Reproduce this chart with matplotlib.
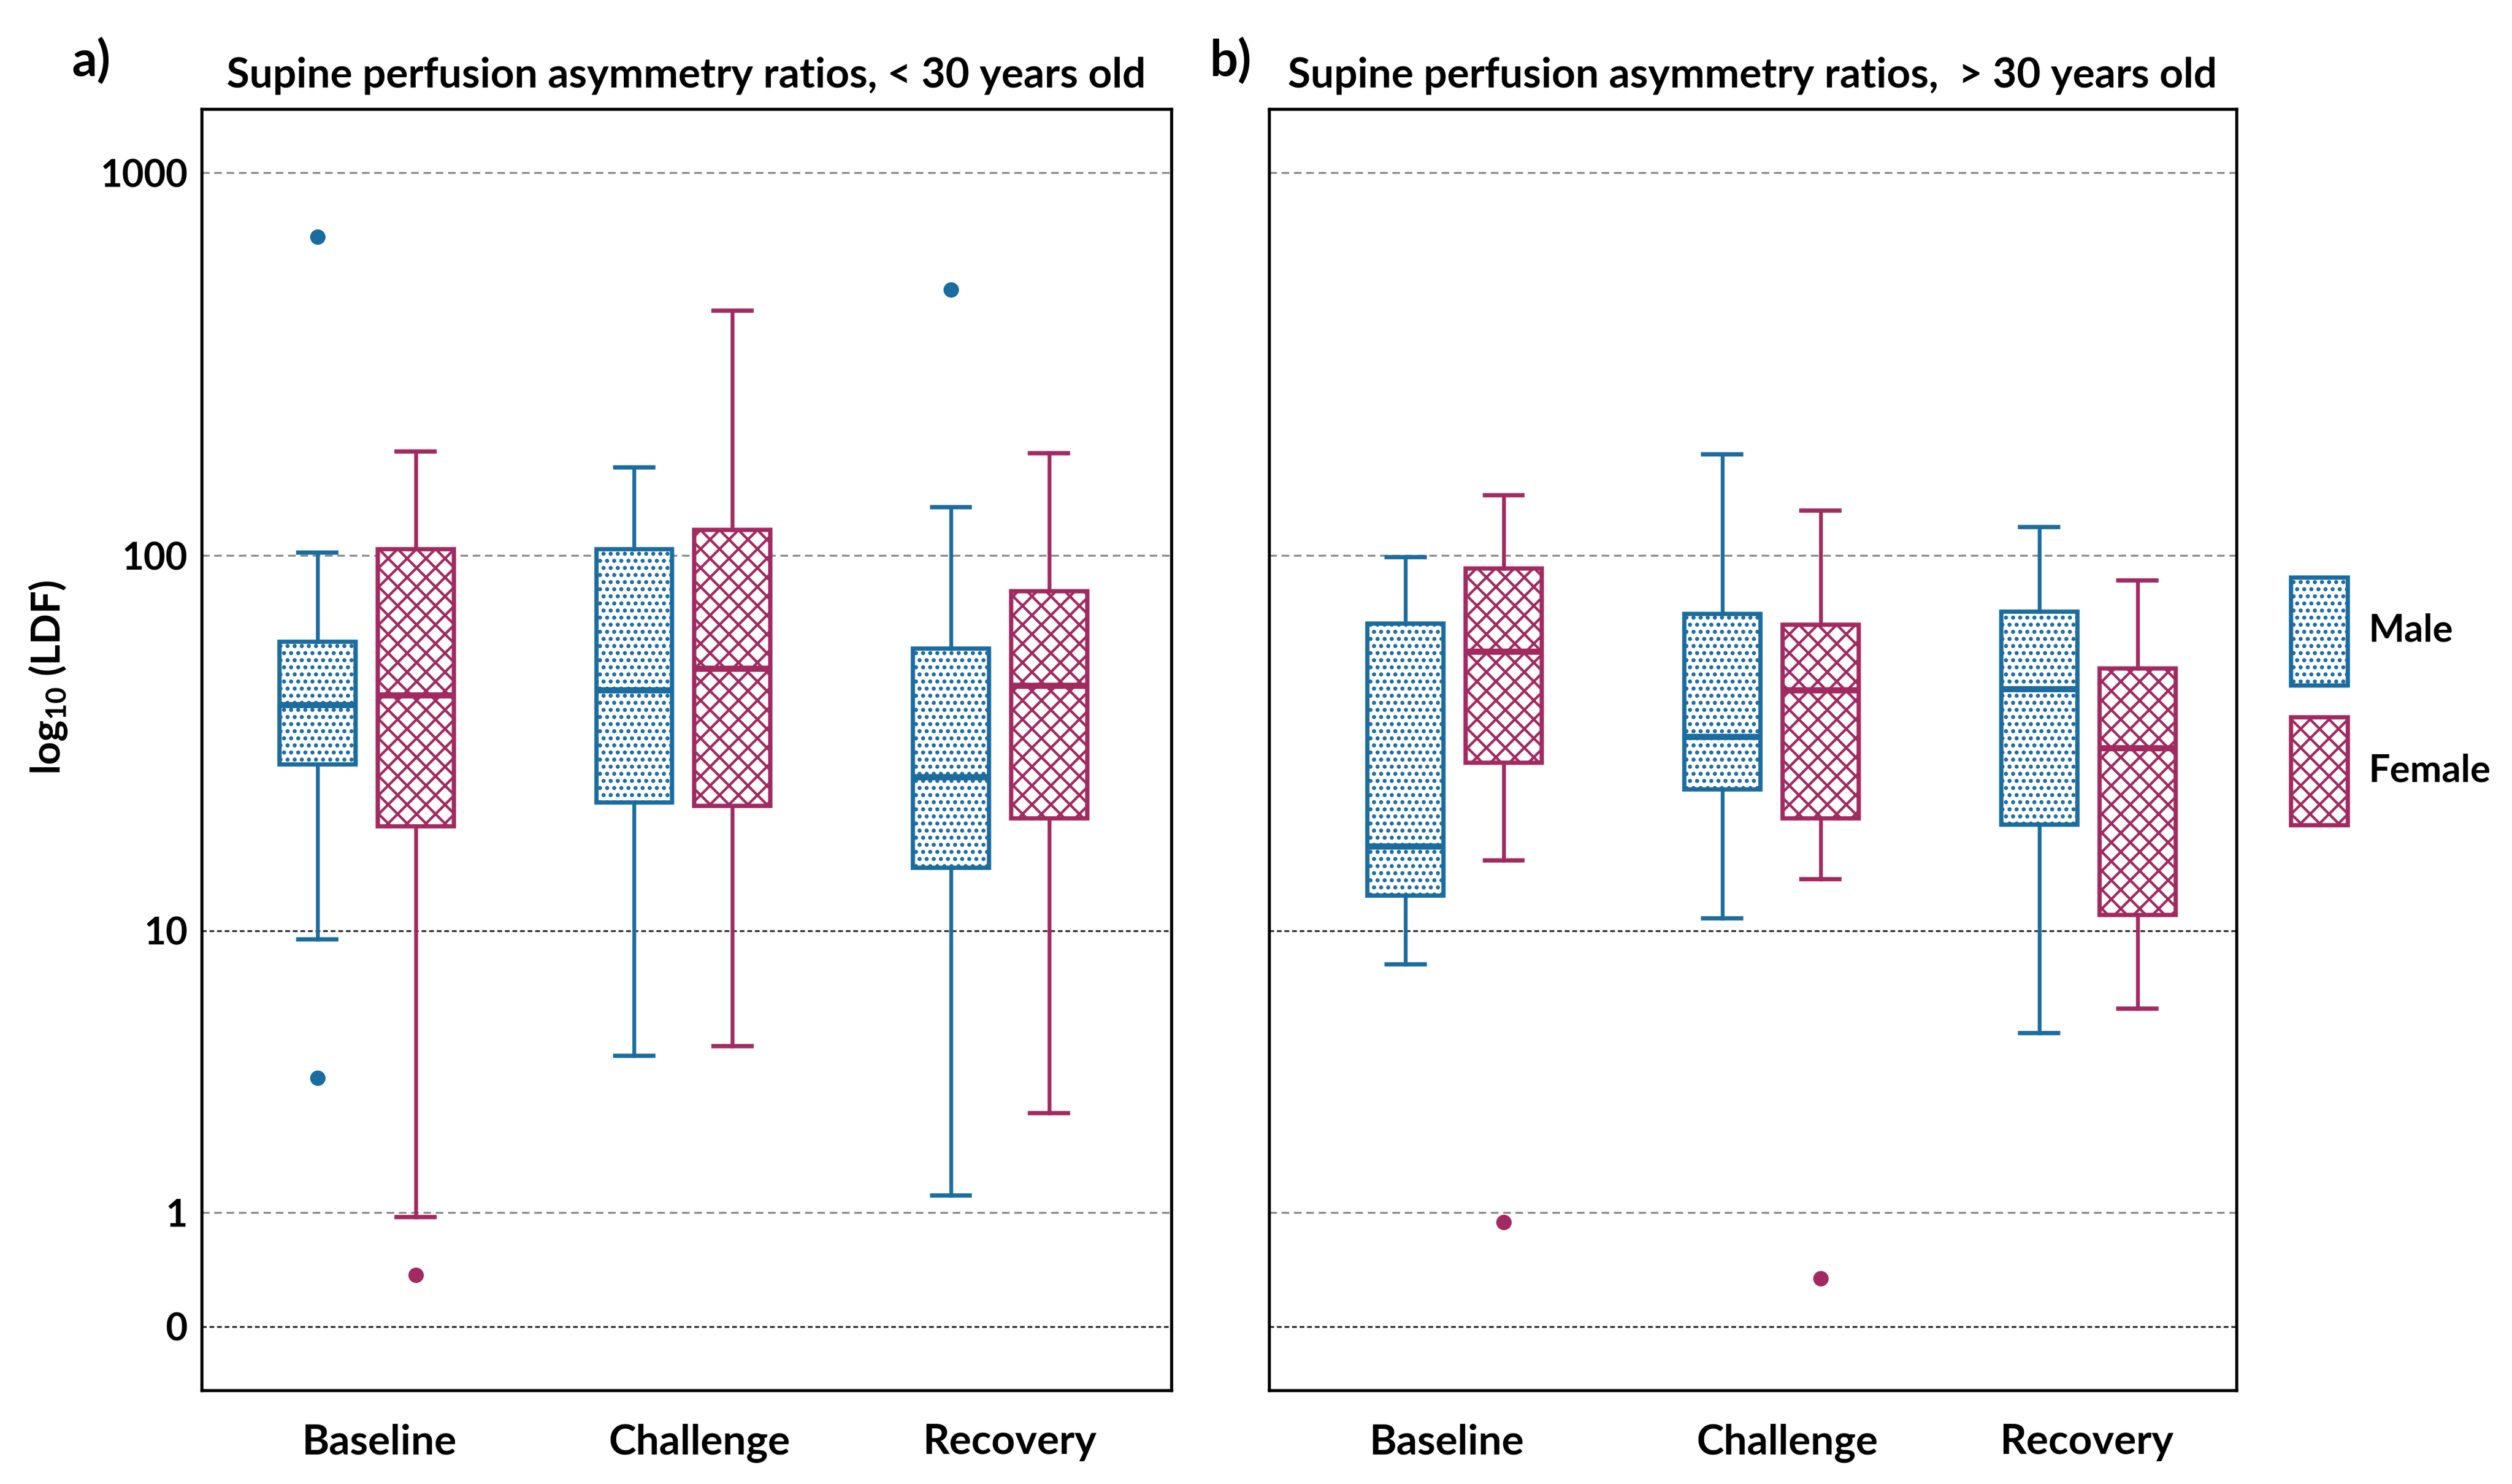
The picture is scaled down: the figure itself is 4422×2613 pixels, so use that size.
import numpy as np
import matplotlib
matplotlib.use('Agg')
import matplotlib.pyplot as plt
from matplotlib.patches import Patch
from matplotlib.ticker import NullLocator

plt.rcParams['font.family'] = ['Lato', 'DejaVu Sans']
plt.rcParams['font.weight'] = 'bold'
plt.rcParams['mathtext.fontset'] = 'custom'
plt.rcParams['mathtext.rm'] = 'Lato:bold'
plt.rcParams['mathtext.bf'] = 'Lato:bold'
plt.rcParams['hatch.linewidth'] = 1.1

phases = ['Baseline', 'Challenge', 'Recovery']
sexes = ['Male', 'Female']
titles = ['Supine perfusion asymmetry ratios, < 30 years old',
          'Supine perfusion asymmetry ratios,  > 30 years old']
ytick_vals = [0, 1, 10, 100, 1000]

# box summaries per phase: whisker low, q1, median, q3, whisker high
young_male = [[9.3, 27.8, 40, 59, 102], [3.6, 22, 43.8, 104, 170], [1.15, 14.7, 25.7, 56.5, 134]]
young_female = [[0.96, 19, 42.5, 104, 187], [3.9, 21.5, 50, 117, 437], [2.25, 19.9, 45, 80.5, 185]]
young_male_out = [[680, 3.0], [], [495]]
young_female_out = [[0.45], [], []]

old_male = [[7.6, 12.4, 16.8, 66, 99], [10.8, 23.8, 32.9, 70, 184], [4.33, 19.2, 44.1, 70.8, 119]]
old_female = [[15.4, 28, 55.5, 92.5, 144], [13.7, 19.9, 43.8, 65.5, 131], [5.3, 11, 30.7, 50, 86]]
old_male_out = [[], [], []]
old_female_out = [[0.915], [0.42], []]

blue = '#1b6c9f'
pink = '#a22a60'

# odd axis from the figure: linear 0..1, then unequal decades
lin_px = 71.0
knot_log = [0, 1, 2, 3, 4]
knot_px = [71, 247, 481, 720, 959]

def fwd(v):
    v = np.asarray(v, dtype=float)
    lg = np.log10(np.clip(v, 1, None))
    return np.where(v < 1, v * lin_px, np.interp(lg, knot_log, knot_px))

def inv(p):
    p = np.asarray(p, dtype=float)
    return np.where(p < lin_px, p / lin_px, 10 ** np.interp(p, knot_px, knot_log))

def make_stats(rows, outs):
    st = []
    for r, o in zip(rows, outs):
        st.append(dict(whislo=r[0], q1=r[1], med=r[2], q3=r[3], whishi=r[4], fliers=o))
    return st

def draw(ax, stats, pos, color, hatch):
    ax.bxp(stats, positions=pos, widths=0.24, capwidths=0.12, patch_artist=True,
           boxprops=dict(facecolor='white', edgecolor=color, hatch=hatch, lw=1.8),
           medianprops=dict(color=color, lw=2.6),
           whiskerprops=dict(color=color, lw=1.6),
           capprops=dict(color=color, lw=1.8),
           flierprops=dict(marker='o', markerfacecolor=color, markeredgecolor=color, markersize=5.5),
           showfliers=True, zorder=3)

fig = plt.figure(figsize=(14.74, 8.71), dpi=300)
W, H = 1568.0, 926.6
axa = fig.add_axes([126 / W, 1 - 868 / H, 605 / W, 800 / H])
axb = fig.add_axes([792 / W, 1 - 868 / H, 604 / W, 800 / H])

panels = [(axa, young_male, young_female, young_male_out, young_female_out, (-0.52, 2.54), [0.04, 1.05, 2.03]),
          (axb, old_male, old_female, old_male_out, old_female_out, (-0.586, 2.467), [-0.025, 1.05, 1.995])]
x = np.arange(len(phases))
for i, (ax, m, f, mo, fo, xl, tick_shift) in enumerate(panels):
    ax.set_yscale('function', functions=(fwd, inv))
    draw(ax, make_stats(m, mo), x - 0.155, blue, '....')
    draw(ax, make_stats(f, fo), x + 0.155, pink, 'xxx')
    ax.set_xlim(*xl)
    ax.set_ylim(-0.56, 1468)
    ax.set_yticks(ytick_vals)
    ax.yaxis.set_minor_locator(NullLocator())
    for v in ytick_vals:
        if v in (0, 10):
            ax.axhline(v, color='#333333', ls=(0, (2.5, 1.5)), lw=0.8, zorder=1)
        else:
            ax.axhline(v, color='#8a8a8a', ls=(0, (4, 2.5)), lw=0.8, zorder=1)
    ax.set_xticks(tick_shift)
    ax.set_xticklabels(phases, fontsize=17.5, fontweight='bold')
    ax.tick_params(length=0, pad=14)
    if i == 0:
        ax.set_yticklabels([str(v) for v in ytick_vals], fontsize=16, fontweight='bold')
        ax.tick_params(axis='y', pad=6)
    else:
        ax.set_yticklabels([])
    for s in ax.spines.values():
        s.set_linewidth(1.3)
    ax.set_title(titles[i], fontsize=17.5, fontweight='bold', pad=9)

fig.text(30 / W, 1 - 423 / H, r'log$_{\mathbf{10}}$ (LDF)', rotation=90, ha='center', va='center',
         fontsize=17, fontweight='bold')
fig.text(45 / W, 1 - 38 / H, 'a)', fontsize=21, fontweight='bold', va='center')
fig.text(755 / W, 1 - 38 / H, 'b)', fontsize=21, fontweight='bold', va='center')

handles = [Patch(facecolor='white', edgecolor=blue, hatch='....', lw=1.8, label=sexes[0]),
           Patch(facecolor='white', edgecolor=pink, hatch='xxx', lw=1.8, label=sexes[1])]
fig.legend(handles=handles, loc='center left', bbox_to_anchor=(1430 / W, 1 - 438 / H),
           frameon=False, fontsize=16, handlelength=1.5, handleheight=4.0,
           labelspacing=0.85, handletextpad=0.55, borderpad=0, borderaxespad=0)

fig.savefig('out.png', dpi=300)
